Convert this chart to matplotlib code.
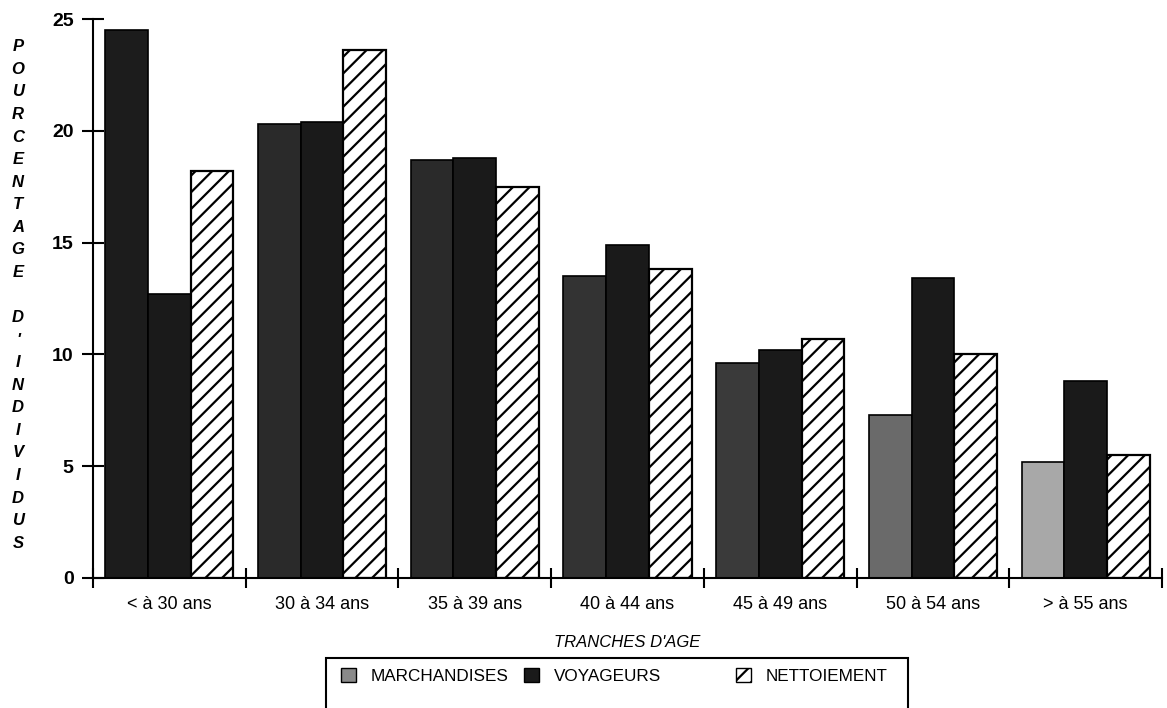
import numpy as np
import matplotlib
matplotlib.use("Agg")
import matplotlib.pyplot as plt
from matplotlib.patches import Patch, Rectangle

plt.rcParams['font.family'] = ['Liberation Sans', 'DejaVu Sans']
plt.rcParams['hatch.linewidth'] = 1.6

# -------------------------------------------------------------
#                   DATA
# -------------------------------------------------------------
categories = ["< à 30 ans", "30 à 34 ans", "35 à 39 ans", "40 à 44 ans",
              "45 à 49 ans", "50 à 54 ans", "> à 55 ans"]
marchandises = [24.5, 20.3, 18.7, 13.5, 9.6, 7.3, 5.2]
voyageurs = [12.7, 20.4, 18.8, 14.9, 10.2, 13.4, 8.8]
nettoiement = [18.2, 23.6, 17.5, 13.8, 10.7, 10.0, 5.5]
series_names = ["MARCHANDISES", "VOYAGEURS", "NETTOIEMENT"]

# marchandises shading gets lighter with age in the original print
march_colors = ["#1c1c1c", "#2a2a2a", "#2a2a2a", "#333333", "#3a3a3a", "#6a6a6a", "#a8a8a8"]
voy_color = "#1a1a1a"

W, H = 1167, 708

# -------------------------------------------------------------
#                   PLOT
# -------------------------------------------------------------
fig = plt.figure(figsize=(W / 100, H / 100), dpi=100)
ax = fig.add_axes([93 / W, 1 - 578 / H, 1069 / W, (578 - 19) / H])

x = np.arange(len(categories))
w = 0.28
off = 0.08 + w / 2

ax.bar(x + off, marchandises, w, color=march_colors, edgecolor="black", linewidth=1.2)
ax.bar(x + off + w, voyageurs, w, color=voy_color, edgecolor="black", linewidth=1.2)
ax.bar(x + off + 2 * w, nettoiement, w, color="white", edgecolor="black",
       hatch="//", linewidth=1.6)

ax.set_xlim(0, 7)
ax.set_ylim(0, 25)

for s in ("top", "right"):
    ax.spines[s].set_visible(False)
ax.spines["left"].set_linewidth(1.5)
ax.spines["bottom"].set_linewidth(1.5)

ax.set_yticks([0, 5, 10, 15, 20, 25])
ax.tick_params(axis="y", direction="inout", length=16, width=1.5, labelsize=14, pad=6)
for lbl in ax.get_yticklabels():
    lbl.set_fontweight("bold")

ax.set_xticks(np.arange(8))
ax.set_xticklabels([])
ax.tick_params(axis="x", direction="inout", length=14, width=1.5)
ax.set_xticks(x + 0.5, minor=True)
ax.set_xticklabels(categories, minor=True, fontsize=13)
ax.tick_params(axis="x", which="minor", length=0, pad=13)

ax.set_xlabel("TRANCHES D'AGE", fontsize=12, style="italic", labelpad=16)

ylabel = "POURCENTAGE D'INDIVIDUS"
fig.text(18 / W, 1 - 295 / H, "\n".join(ylabel), ha="center", va="center",
         fontsize=12, fontweight="bold", style="italic", linespacing=1.63)

# legend box (runs off the bottom edge like the scan)
fig.add_artist(Rectangle((326 / W, -0.02), (908 - 326) / W, 0.02 + 1 - 658 / H,
                         transform=fig.transFigure, facecolor="none",
                         edgecolor="black", linewidth=1.5))

h1 = [Patch(facecolor="#8a8a8a", edgecolor="black", label=series_names[0]),
      Patch(facecolor=voy_color, edgecolor="black", label=series_names[1])]
h2 = [Patch(facecolor="white", edgecolor="black", hatch="//", label=series_names[2])]
leg_kw = dict(fontsize=12.3, frameon=False, handlelength=0.85, handleheight=0.85,
              handletextpad=0.9, borderpad=0, borderaxespad=0)
fig.legend(handles=h1, loc="center left", ncol=2, columnspacing=0.9,
           bbox_to_anchor=(341 / W, 1 - 676 / H), **leg_kw)
fig.legend(handles=h2, loc="center left", bbox_to_anchor=(736 / W, 1 - 676 / H), **leg_kw)

fig.savefig("out.png", dpi=100)
